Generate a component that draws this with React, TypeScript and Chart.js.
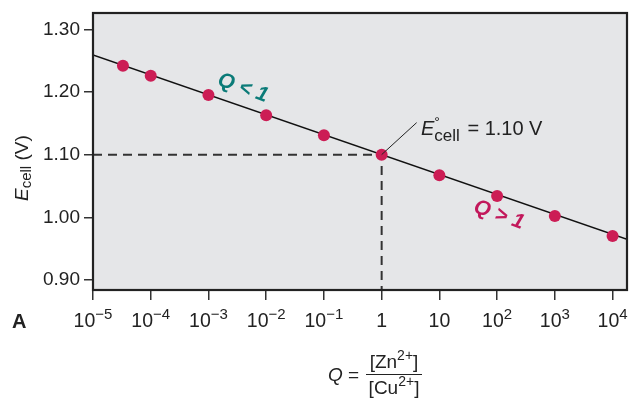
import React, { useEffect, useRef } from "react";
import { Chart, registerables } from "chart.js";

Chart.register(...registerables);

// ---- data ----
const qValues = [3.3e-5, 1e-4, 1e-3, 1e-2, 1e-1, 1, 10, 100, 1000, 10000];
const eValues = [1.242, 1.226, 1.195, 1.163, 1.131, 1.1, 1.067, 1.034, 1.002, 0.97];
const lineQ = [1e-5, 17783];
const lineE = [1.259, 0.965];
const standardQ = 1;
const standardE = 1.1;
const xTickValues = [1e-5, 1e-4, 1e-3, 1e-2, 1e-1, 1, 10, 100, 1000, 10000];
const xTickBase = ["10", "10", "10", "10", "10", "1", "10", "10", "10", "10"];
const xTickSup = ["−5", "−4", "−3", "−2", "−1", "", "", "2", "3", "4"];
const yTickValues = [0.9, 1.0, 1.1, 1.2, 1.3];
const xMin = 1e-5;
const xMax = 17783;
const yMin = 0.884;
const yMax = 1.326;

const FONT = '"Liberation Sans", Arial, Helvetica, sans-serif';
const TEXT = "#222";
const POINT = "#cc1d55";
const TEAL = "#0b7b78";
const MAGENTA = "#c2185b";

const decorPlugin = {
  id: "decor",
  beforeDraw(chart: any) {
    const { ctx, chartArea: a } = chart;
    ctx.save();
    ctx.fillStyle = "#e5e6e8";
    ctx.fillRect(a.left, a.top, a.right - a.left, a.bottom - a.top);
    ctx.restore();
  },
  afterDraw(chart: any) {
    const { ctx, chartArea: a, scales } = chart;
    const xs = scales.x;
    const ys = scales.y;
    ctx.save();
    // border
    ctx.strokeStyle = "#222";
    ctx.lineWidth = 2.2;
    ctx.strokeRect(a.left, a.top, a.right - a.left, a.bottom - a.top);

    // x tick labels with superscripts
    ctx.fillStyle = TEXT;
    ctx.textBaseline = "alphabetic";
    ctx.textAlign = "left";
    xTickValues.forEach((v, i) => {
      const px = xs.getPixelForValue(v);
      ctx.font = `19.5px ${FONT}`;
      const wb = ctx.measureText(xTickBase[i]).width;
      ctx.font = `15px ${FONT}`;
      const ws = xTickSup[i] ? ctx.measureText(xTickSup[i]).width : 0;
      const start = px - (wb + ws) / 2;
      ctx.font = `19.5px ${FONT}`;
      ctx.fillText(xTickBase[i], start, 327);
      if (xTickSup[i]) {
        ctx.font = `15px ${FONT}`;
        ctx.fillText(xTickSup[i], start + wb, 319);
      }
    });

    // "A"
    ctx.font = `bold 20px ${FONT}`;
    ctx.fillText("A", 12, 328);

    // y-axis title
    ctx.save();
    ctx.translate(28, 201);
    ctx.rotate(-Math.PI / 2);
    ctx.font = `italic 19px ${FONT}`;
    ctx.fillText("E", 0, 0);
    let w = ctx.measureText("E").width;
    ctx.font = `15px ${FONT}`;
    ctx.fillText("cell", w, 3);
    w += ctx.measureText("cell").width;
    ctx.font = `19px ${FONT}`;
    ctx.fillText(" (V)", w, 0);
    ctx.restore();

    // x-axis title
    ctx.font = `italic 19px ${FONT}`;
    ctx.fillText("Q", 328, 381);
    let qw = ctx.measureText("Q").width;
    ctx.font = `19px ${FONT}`;
    ctx.fillText(" =", 328 + qw, 381);
    const drawIon = (pre: string, sup: string, post: string, cx: number, base: number) => {
      ctx.font = `19px ${FONT}`;
      const w1 = ctx.measureText(pre).width;
      const w3 = ctx.measureText(post).width;
      ctx.font = `14px ${FONT}`;
      const w2 = ctx.measureText(sup).width;
      const s = cx - (w1 + w2 + w3) / 2;
      ctx.font = `19px ${FONT}`;
      ctx.fillText(pre, s, base);
      ctx.font = `14px ${FONT}`;
      ctx.fillText(sup, s + w1, base - 8);
      ctx.font = `19px ${FONT}`;
      ctx.fillText(post, s + w1 + w2, base);
    };
    drawIon("[Zn", "2+", "]", 394, 368);
    drawIon("[Cu", "2+", "]", 394, 394);
    ctx.strokeStyle = TEXT;
    ctx.lineWidth = 1.2;
    ctx.beginPath();
    ctx.moveTo(366, 374.5);
    ctx.lineTo(422, 374.5);
    ctx.stroke();

    // E°cell annotation
    const ex = xs.getPixelForValue(standardQ);
    const ey = ys.getPixelForValue(standardE);
    ctx.strokeStyle = "#222";
    ctx.lineWidth = 1;
    ctx.beginPath();
    ctx.moveTo(ex, ey);
    ctx.lineTo(ex + 35, ey - 32);
    ctx.stroke();
    ctx.fillStyle = TEXT;
    ctx.font = `italic 20px ${FONT}`;
    ctx.fillText("E", 421, 135);
    const eW = ctx.measureText("E").width;
    ctx.font = `14px ${FONT}`;
    ctx.fillText("°", 421 + eW, 127);
    ctx.font = `17px ${FONT}`;
    ctx.fillText("cell", 421 + eW, 141);
    const cW = ctx.measureText("cell").width;
    ctx.font = `20px ${FONT}`;
    ctx.fillText(" = 1.10 V", 421 + eW + cW + 2, 135);

    // Q < 1 / Q > 1 labels
    const ang = Math.atan2(20.5, 57.7);
    const rotLabel = (txt: string, cx: number, cy: number, color: string) => {
      ctx.save();
      ctx.translate(cx, cy);
      ctx.rotate(ang);
      ctx.fillStyle = color;
      ctx.font = `bold italic 21px ${FONT}`;
      ctx.textAlign = "center";
      ctx.textBaseline = "middle";
      ctx.fillText(txt, 0, 0);
      ctx.restore();
    };
    rotLabel("Q < 1", 243, 88, TEAL);
    rotLabel("Q > 1", 499, 215, MAGENTA);
    ctx.restore();
  },
};

export default function App() {
  const ref = useRef<HTMLCanvasElement | null>(null);
  useEffect(() => {
    document.body.style.margin = "0";
    const canvas = ref.current!;
    const chart = new Chart(canvas, {
      type: "scatter",
      data: {
        datasets: [
          {
            label: "dashed",
            data: [
              { x: xMin, y: standardE },
              { x: standardQ, y: standardE },
              { x: standardQ, y: yMin },
            ],
            showLine: true,
            borderColor: "#333",
            borderWidth: 2,
            borderDash: [9, 6],
            pointRadius: 0,
            order: 3,
          },
          {
            label: "line",
            data: lineQ.map((q, i) => ({ x: q, y: lineE[i] })),
            showLine: true,
            borderColor: "#111",
            borderWidth: 1.4,
            pointRadius: 0,
            order: 2,
          },
          {
            label: "points",
            data: qValues.map((q, i) => ({ x: q, y: eValues[i] })),
            showLine: false,
            backgroundColor: POINT,
            borderColor: POINT,
            borderWidth: 0,
            pointRadius: 6,
            order: 1,
          },
        ],
      },
      options: {
        animation: false,
        responsive: false,
        maintainAspectRatio: false,
        layout: { autoPadding: false, padding: { top: 13, right: 2, left: 0, bottom: 0 } },
        plugins: { legend: { display: false }, tooltip: { enabled: false } },
        scales: {
          x: {
            type: "logarithmic",
            bounds: "data",
            min: xMin,
            max: xMax,
            afterBuildTicks: (s: any) => {
              s.ticks = xTickValues.map((v) => ({ value: v }));
            },
            afterFit: (s: any) => {
              s.height = 108;
              s.paddingLeft = 0;
              s.paddingRight = 0;
              s.paddingTop = 0;
              s.paddingBottom = 0;
            },
            ticks: { display: false },
            grid: {
              drawOnChartArea: false,
              drawTicks: true,
              tickLength: 10,
              color: "#333",
              lineWidth: 1.5,
            },
            border: { display: false },
          },
          y: {
            type: "linear",
            bounds: "data",
            min: yMin,
            max: yMax,
            afterBuildTicks: (s: any) => {
              s.ticks = yTickValues.map((v) => ({ value: v }));
            },
            afterFit: (s: any) => {
              s.width = 93;
              s.paddingLeft = 0;
              s.paddingRight = 0;
              s.paddingTop = 0;
              s.paddingBottom = 0;
            },
            ticks: {
              callback: (v: any) => Number(v).toFixed(2),
              color: TEXT,
              font: { family: FONT, size: 19 },
              padding: 4,
            },
            grid: {
              drawOnChartArea: false,
              drawTicks: true,
              tickLength: 9,
              color: "#333",
              lineWidth: 1.5,
            },
            border: { display: false },
          },
        },
      },
      plugins: [decorPlugin],
    } as any);
    return () => chart.destroy();
  }, []);
  return <canvas ref={ref} width={629} height={398} style={{ display: "block" }} />;
}
